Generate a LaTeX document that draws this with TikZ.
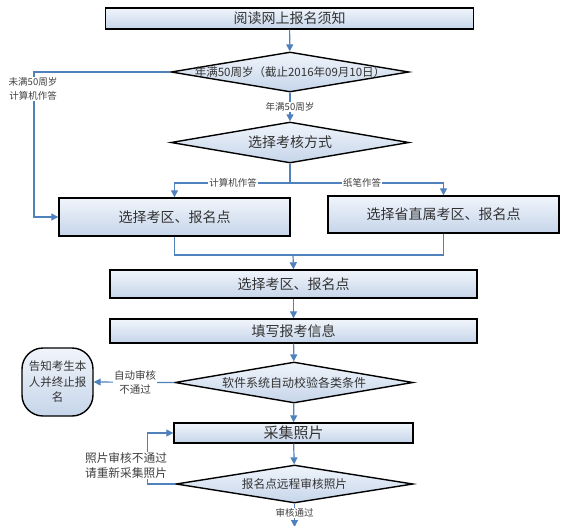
\documentclass[tikz,border=0pt]{standalone}
\usepackage{fontspec}
\setmainfont{Noto Sans CJK SC}
\usetikzlibrary{shapes.geometric,arrows.meta}
\definecolor{linkblue}{RGB}{79,129,189}
\definecolor{shadetop}{RGB}{240,245,251}
\definecolor{shadebot}{RGB}{198,213,234}
\begin{document}
\begin{tikzpicture}[x=1pt, y=-1pt,
	box/.style = {draw, line width=1.4pt, top color=shadetop, bottom color=shadebot, inner sep=0pt, text=black!80, font=\fontsize{14}{16}\selectfont},
	dia/.style = {draw, diamond, line width=1.4pt, top color=shadetop, bottom color=shadebot, inner sep=0pt},
	dtext/.style = {text=black!80, inner sep=0pt},
	term/.style = {draw, line width=1.4pt, rounded corners=21pt, top color=shadetop, bottom color=shadebot, align=center, text=black!80, font=\fontsize{11.5}{15.5}\selectfont},
	link/.style = {draw=linkblue, line width=1.2pt, -{Triangle[width=7pt,length=7pt]}},
	line/.style = {draw=linkblue, line width=1.2pt},
	lab/.style = {fill=white, inner sep=1pt, align=center, text=black!75, font=\fontsize{9.5}{14}\selectfont}]
	\useasboundingbox (0,0) rectangle (567,525);
	% shapes
	\node[box, minimum width=368pt, minimum height=21pt] (read) at (289.5,18.5) {阅读网上报名须知};
	\node[dia, minimum width=238pt, minimum height=40pt] (age) at (290,72) {};
	\node[dtext, font=\fontsize{11.5}{13}\selectfont] at (age) {年满50周岁（截止2016年09月10日）};
	\node[dia, minimum width=238pt, minimum height=41pt] (way) at (290,142.5) {};
	\node[dtext, font=\fontsize{14}{16}\selectfont] at (way) {选择考核方式};
	\node[box, minimum width=231pt, minimum height=38pt] (area) at (174.5,217) {选择考区、报名点};
	\node[box, minimum width=231pt, minimum height=37pt] (prov) at (443.5,214.5) {选择省直属考区、报名点};
	\node[box, minimum width=367pt, minimum height=28pt] (confirm) at (293.5,284) {选择考区、报名点};
	\node[box, minimum width=367pt, minimum height=24pt] (info) at (293.5,331) {填写报考信息};
	\node[dia, minimum width=238pt, minimum height=41pt] (verify) at (294,382.5) {};
	\node[dtext, font=\fontsize{12}{14}\selectfont] at (verify) {软件系统自动校验各类条件};
	\node[term, minimum width=71pt, minimum height=68pt, inner sep=2pt] (stop) at (57.5,382) {告知考生本\\人并终止报\\名};
	\node[box, minimum width=239pt, minimum height=20pt, font=\fontsize{15}{17}\selectfont] (photo) at (293.5,433) {采集照片};
	\node[dia, minimum width=237pt, minimum height=38pt] (check) at (294.5,484) {};
	\node[dtext, font=\fontsize{11.7}{14}\selectfont] at (check) {报名点远程审核照片};
	\coordinate (split) at (290,183);
	\coordinate (merge) at (293,255);
	\coordinate (out) at (294.5,527);
	% connectors
	\path[link] (read) -- (age);
	\path[link] (age) -- (way);
	\path[line] (way) -- (split);
	\path[link] (split) -| (area);
	\path[link] (split) -| (prov);
	\path[link] (age.west) -| (34,180) |- (area.west);
	\path[line] (area.south) |- (merge);
	\path[line] (prov.south) |- (merge);
	\path[link] (merge) -- (confirm.north);
	\path[link] (confirm) -- (info);
	\path[link] (info) -- (verify);
	\path[link] (verify.west) -- (stop.east);
	\path[link] (verify) -- (photo);
	\path[link] (photo) -- (check);
	\path[link] (check.west) -- ++(-28,0) |- (photo.west);
	\path[link] (check.south) -- (out);
	% labels
	\node[lab] (young) at (33,89) {未满50周岁\\计算机作答};
	\node[lab] (old) at (290,107) {年满50周岁};
	\node[lab] (pc) at (233,183) {计算机作答};
	\node[lab] (pen) at (362,183) {纸笔作答};
	\node[lab, font=\fontsize{10.5}{14}\selectfont] (fail) at (135,382) {自动审核\\不通过};
	\node[lab, font=\fontsize{11.7}{15}\selectfont] (redo) at (126,465.5) {照片审核不通过\\请重新采集照片};
	\node[lab] (pass) at (294.5,513) {审核通过};
\end{tikzpicture}
\end{document}
